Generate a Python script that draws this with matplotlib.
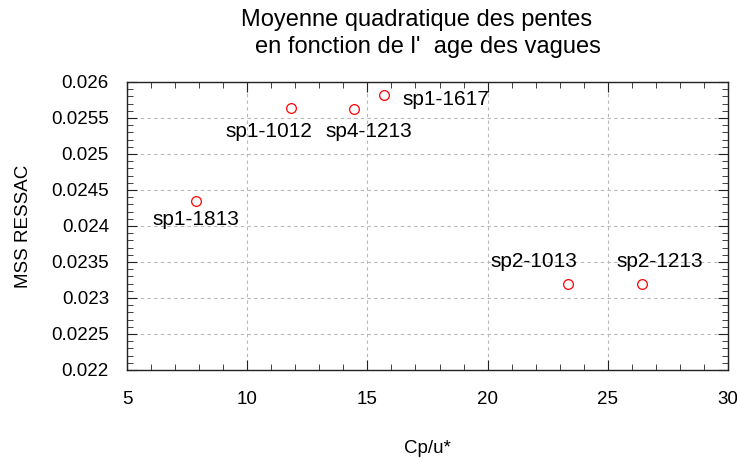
import matplotlib.pyplot as plt
import numpy as np
from matplotlib.ticker import MultipleLocator

plt.rcParams['font.family'] = ['Liberation Sans', 'DejaVu Sans']

# âge des vagues Cp/u* et MSS mesurée par RESSAC
noms = ['sp1-1813', 'sp1-1012', 'sp4-1213', 'sp1-1617', 'sp2-1013', 'sp2-1213']
cp_u = [7.86, 11.82, 14.44, 15.69, 23.36, 26.42]
mss = [0.02435, 0.025643, 0.02562, 0.025815, 0.0232, 0.0232]
# décalage des étiquettes (points)
dec = [(0, -13.5), (-16, -17), (11, -16), (13.5, -2.7), (-25, 16), (13, 16)]
ali = ['center', 'center', 'center', 'left', 'center', 'center']

fs = 13.5
fig = plt.figure(figsize=(7.37, 4.59), dpi=100)
ax = fig.add_axes([127 / 737, 1 - 370 / 459, 601 / 737, 288 / 459])

ax.plot(cp_u, mss, 'o', mfc='none', mec='red', ms=7, mew=0.9, zorder=3)
for n, x, y, d, a in zip(noms, cp_u, mss, dec, ali):
    ax.annotate(n, (x, y), xytext=d, textcoords='offset points',
                ha=a, va='center', fontsize=15)

ax.set_xlim(5, 30)
ax.set_ylim(0.022, 0.026)
ax.xaxis.set_major_locator(MultipleLocator(5))
ax.xaxis.set_minor_locator(MultipleLocator(1))
ax.yaxis.set_minor_locator(MultipleLocator(0.0001))
ax.set_yticks(np.arange(0.022, 0.02601, 0.0005))
ax.set_yticklabels(['0.022', '0.0225', '0.023', '0.0235', '0.024',
                    '0.0245', '0.025', '0.0255', '0.026'])
ax.tick_params(which='both', direction='in', top=True, right=True,
               labelsize=fs, color='#222222')
ax.tick_params(which='major', length=7, pad=13)
ax.tick_params(axis='x', which='major', pad=15)
ax.tick_params(which='minor', length=4)
ax.grid(True, which='major', ls=(0, (3, 3)), color='#b8b8b8', lw=0.8)
for s in ax.spines.values():
    s.set_color('#222222')
    s.set_linewidth(1.0)

ax.set_xlabel('Cp/u*', fontsize=fs, labelpad=23.5)
ax.set_ylabel('MSS RESSAC', fontsize=fs, labelpad=14)
fig.text(417 / 737, 1 - 20 / 459, 'Moyenne quadratique des pentes',
         ha='center', va='center', fontsize=17)
fig.text(428 / 737, 1 - 47 / 459, "en fonction de l'  age des vagues",
         ha='center', va='center', fontsize=17)

fig.savefig('out.png', dpi=100)
